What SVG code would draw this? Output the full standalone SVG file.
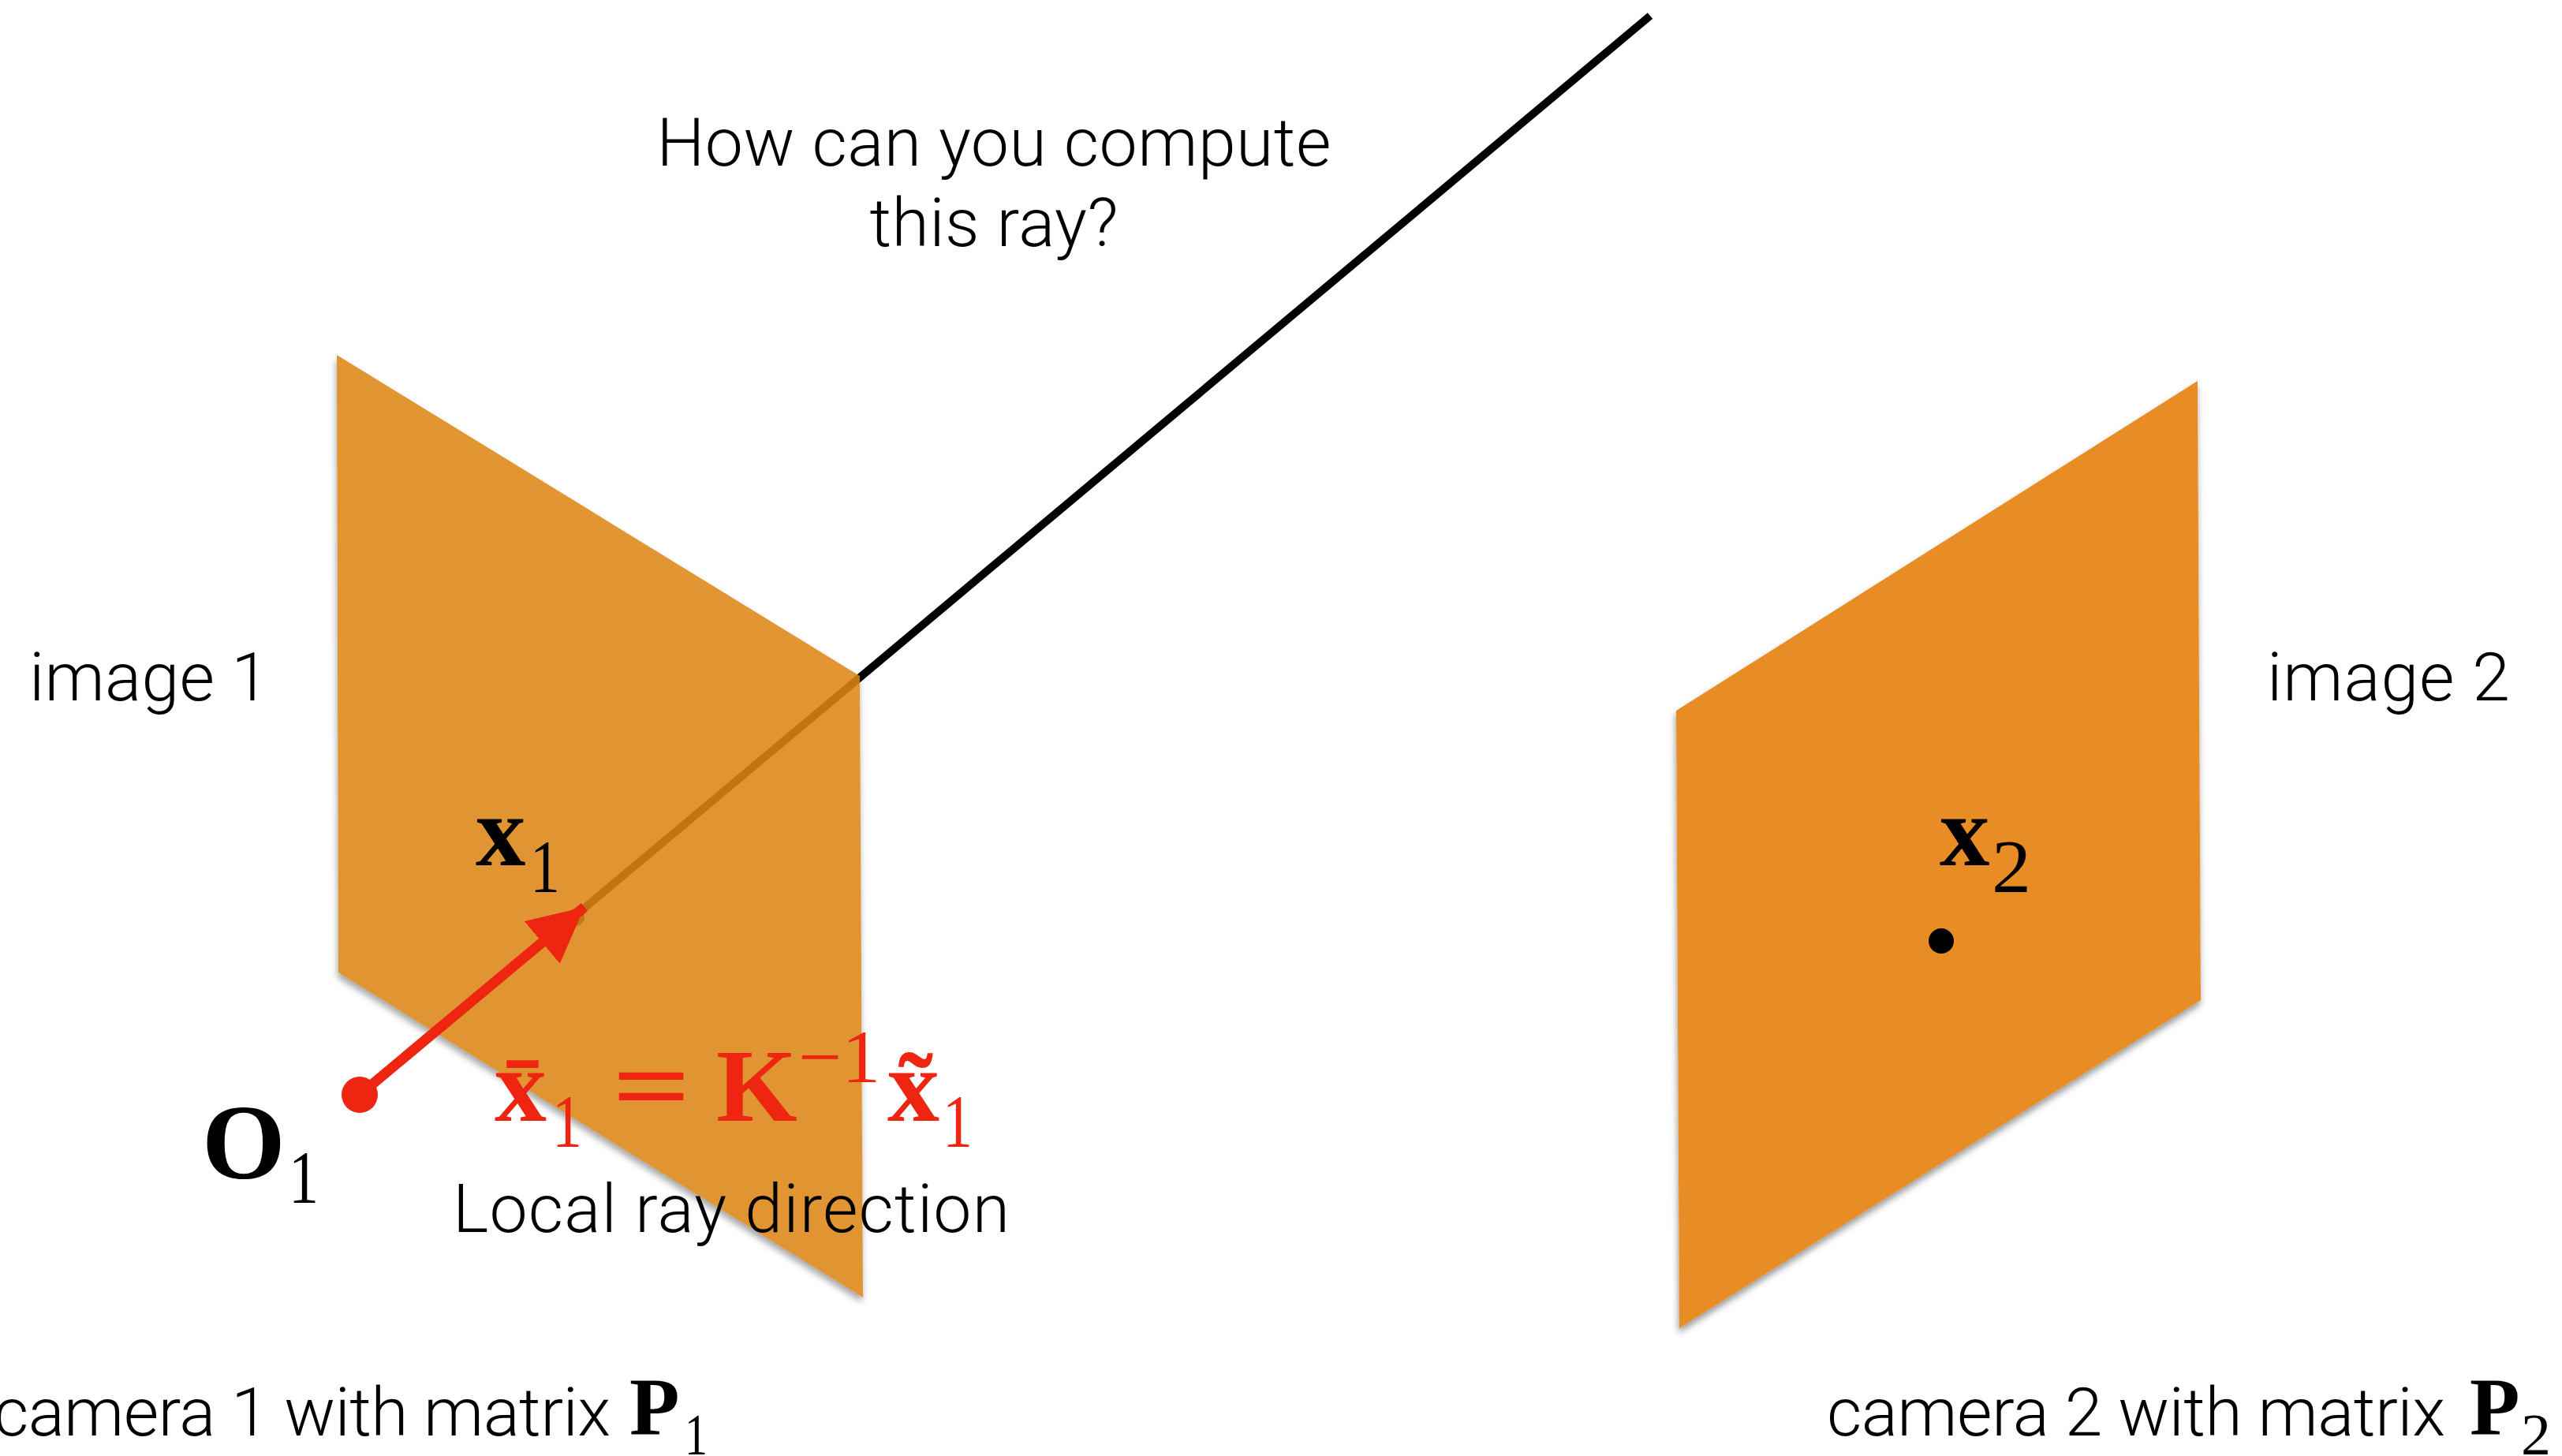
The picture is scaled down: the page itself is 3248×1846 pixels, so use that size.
<svg xmlns="http://www.w3.org/2000/svg" width="3248" height="1846" viewBox="0 0 3248 1846">
<style>
.t{font-family:Roboto,"Liberation Sans",sans-serif;font-weight:300;font-size:86px;fill:#000}
.m{font-family:"Liberation Serif","Times New Roman",serif;fill:#000}
.b{font-weight:700}
.s{font-size:95px}
.e{font-size:132px}
.r{fill:#ee2510}
</style>
<defs>
<filter id="sh" x="-5%" y="-5%" width="110%" height="110%" color-interpolation-filters="sRGB">
<feGaussianBlur in="SourceAlpha" stdDeviation="4" result="b"/>
<feOffset in="b" dx="-1" dy="6" result="o"/>
<feFlood flood-color="#000" flood-opacity=".4"/>
<feComposite in2="o" operator="in" result="c"/>
<feComposite in="c" in2="SourceAlpha" operator="out" result="d"/>
<feMerge><feMergeNode in="d"/><feMergeNode in="SourceGraphic"/></feMerge>
</filter>
<marker id="ah" markerUnits="userSpaceOnUse" markerWidth="80" markerHeight="80" refX="70" refY="35" orient="auto"><path d="M0 0L70 35L0 70Z" fill="#ee2510"/></marker>
</defs>
<rect width="3248" height="1846" fill="#fff"/>
<g id="connectors">
<line id="ray" x1="2092" y1="20" x2="740" y2="1152" stroke="#000" stroke-width="10"/>
</g>
<g id="image1"><polygon points="427,450 1090,857 1094,1645 429,1233" fill="#dc8615" fill-opacity=".87" filter="url(#sh)"/></g>
<g id="image2"><polygon points="2786,483 2125,901 2129,1684 2790,1268" fill="#e88c25" filter="url(#sh)"/></g>
<g id="arrow">
<circle cx="730" cy="1163" r="11" fill="#c27a15"/>
<line x1="456" y1="1388" x2="741" y2="1150" stroke="#ee2510" stroke-width="13" marker-end="url(#ah)"/>
<circle cx="456" cy="1388" r="23" fill="#ee2510"/>
</g>
<g id="point2"><circle cx="2461" cy="1193" r="16" fill="#000"/></g>
<g id="labels">
<text class="t" x="1260" y="210" text-anchor="middle" textLength="855">How can you compute</text>
<text class="t" x="1260" y="312" text-anchor="middle" textLength="315">this ray?</text>
<text class="t" x="37" y="888" textLength="304">image 1</text>
<text class="t" x="2874" y="888" textLength="308">image 2</text>
<text class="t" x="-8" y="1820" textLength="782">camera 1 with matrix</text>
<text class="t" x="2316" y="1820" textLength="784">camera 2 with matrix</text>
<text class="t" x="574" y="1562" textLength="706">Local ray direction</text>
<text class="m b" x="603" y="1097" font-size="127">x</text><text class="m s" x="672" y="1131" textLength="38" lengthAdjust="spacingAndGlyphs">1</text>
<text class="m b" x="2459" y="1097" font-size="127">x</text><text class="m s" x="2525" y="1131" textLength="50" lengthAdjust="spacingAndGlyphs">2</text>
<text class="m b" x="256" y="1494" font-size="136">O</text><text class="m s" x="366" y="1525" textLength="38" lengthAdjust="spacingAndGlyphs">1</text>
<text class="m b" x="798" y="1819" font-size="104">P</text><text class="m" x="868" y="1844" font-size="73" textLength="29" lengthAdjust="spacingAndGlyphs">1</text>
<text class="m b" x="3131" y="1819" font-size="104">P</text><text class="m" x="3196" y="1844" font-size="73" textLength="38" lengthAdjust="spacingAndGlyphs">2</text>
<text class="m b r e" x="627" y="1421">x̄</text><text class="m r s" x="700" y="1454" textLength="38" lengthAdjust="spacingAndGlyphs">1</text>
<text class="m b r e" x="776" y="1421" textLength="100" lengthAdjust="spacingAndGlyphs">=</text>
<text class="m b r e" x="908" y="1421">K</text>
<text class="m r s" x="1012" y="1372" textLength="104" lengthAdjust="spacingAndGlyphs">−1</text>
<text class="m b r e" x="1125" y="1421">x̃</text><text class="m r s" x="1195" y="1454" textLength="38" lengthAdjust="spacingAndGlyphs">1</text>
</g>
</svg>
